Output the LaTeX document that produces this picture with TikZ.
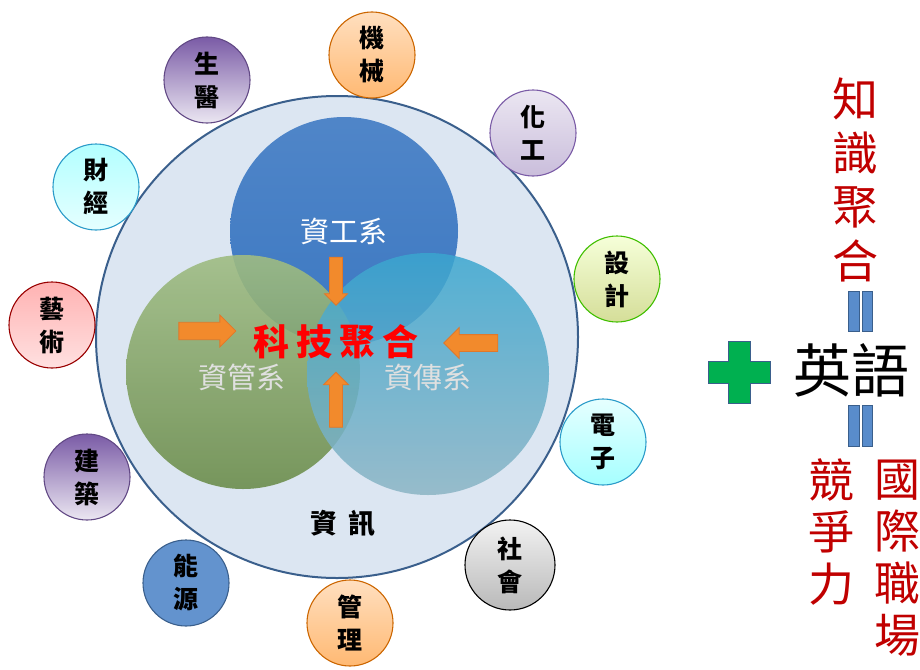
\documentclass[tikz,border=0pt]{standalone}
\usepackage{fontspec}
\setmainfont{Noto Sans CJK TC}
\newfontfamily\cjk{Noto Sans CJK TC}
\usepackage{xcolor}
\usetikzlibrary{positioning, shapes.arrows}

\definecolor{ringfill}{HTML}{DCE6F2}
\definecolor{ringline}{HTML}{3A5F8C}
\definecolor{itblue}{HTML}{3C78C2}
\definecolor{imgreen}{HTML}{7FA65A}
\definecolor{dmblue}{HTML}{3AA6CF}
\definecolor{pushfill}{HTML}{F28A2C}
\definecolor{pushline}{HTML}{E0782A}
\definecolor{darkred}{HTML}{C00000}
\definecolor{plum}{HTML}{7A5BA6}
\definecolor{plusgreen}{HTML}{00B050}

\begin{document}
\begin{tikzpicture}[x=1pt, y=-1pt,
    field/.style={circle, draw, line width=1.1pt, minimum size=86pt, inner sep=0pt, align=center, font=\fontsize{25}{33}\selectfont\bfseries},
    dept/.style={circle, inner sep=0pt, text opacity=1, font=\fontsize{29}{29}\selectfont},
    push/.style={single arrow, draw=pushline, fill=pushfill, inner sep=0pt, line width=0.8pt},
    bar/.style={draw=ringline, fill=itblue!85, line width=0.8pt}]

    \useasboundingbox (0,0) rectangle (920,669);

    % big ring
    \node[circle, draw=ringline, fill=ringfill, line width=2pt, minimum size=482pt, inner sep=0pt] (ring) at (337,337) {};
    \node[font=\fontsize{27}{27}\selectfont\bfseries] (info) at (343,523) {資\hspace{12pt}訊};

    % three departments
    \node[dept, minimum size=228pt, top color=itblue!90!white, bottom color=itblue, text=white] (dept-it) at (344,231) {資工系};
    \node[dept, minimum size=234pt, top color=imgreen!75!white, bottom color=imgreen!85!black, fill opacity=0.9] (dept-im) at (243,372) {};
    \node[dept, minimum size=242pt, top color=dmblue, bottom color=dmblue!55!gray!70!white, fill opacity=0.85] (dept-dm) at (428,374) {};
    \node[dept, text=white!88!black] (label-im) at (242,377) {資管系};
    \node[dept, text=white!88!black] (label-dm) at (428,377) {資傳系};

    % arrows to the centre
    \node[push, minimum height=57pt, minimum width=32pt, single arrow head extend=7pt, inner ysep=8pt] (push-im) at (203,331) {};
    \node[push, minimum height=54pt, minimum width=30pt, single arrow head extend=7pt, inner ysep=8pt, rotate=180] (push-dm) at (475,343) {};
    \node[push, minimum height=48pt, minimum width=23pt, single arrow head extend=5pt, inner ysep=6pt, rotate=-90] (push-it) at (336,278) {};
    \node[push, minimum height=55pt, minimum width=25pt, single arrow head extend=6pt, inner ysep=6pt, rotate=90] (push-up) at (336,403) {};

    \node[text=red, font=\fontsize{36}{36}\selectfont\bfseries] (merge) at (336,342) {科\hspace{7pt}技\hspace{7pt}聚\hspace{7pt}合};

    % fields round the ring
    \node[field, draw=orange!80!black, top color=orange!25, bottom color=orange!55] (mech) at (372,55) {機\\械};
    \node[field, draw=plum, top color=plum!15, bottom color=plum!40] (chem) at (533,133) {化\\工};
    \node[field, draw=green!50!olive, top color=lime!15, bottom color=lime!35!olive!40] (design) at (617,279) {設\\計};
    \node[field, draw=cyan!60!teal, top color=cyan!10, bottom color=cyan!35] (elec) at (603,442) {電\\子};
    \node[field, draw=black, top color=gray!10, bottom color=gray!55, minimum size=90pt] (social) at (510,565) {社\\會};
    \node[field, draw=orange!80!black, top color=orange!25, bottom color=orange!55] (mgmt) at (350,623) {管\\理};
    \node[field, draw=ringline, fill=itblue!80!white] (energy) at (186,583) {能\\源};
    \node[field, draw=plum!80!black, top color=plum, bottom color=plum!15] (arch) at (87,477) {建\\築};
    \node[field, draw=red!60!black, top color=red!30, bottom color=red!12] (art) at (52,325) {藝\\術};
    \node[field, draw=cyan!60!teal, top color=cyan!30, bottom color=cyan!10] (fin) at (96,187) {財\\經};
    \node[field, draw=plum!80!black, top color=plum, bottom color=plum!15] (bio) at (207,80) {生\\醫};

    % right column
    \node[text=darkred, align=center, font=\fontsize{46}{54}\selectfont] (knowledge) at (855,180) {知\\識\\聚\\合};
    \draw[bar] (848,291) rectangle (859,331);
    \draw[bar] (862,291) rectangle (872,331);
    \node[font=\fontsize{58}{58}\selectfont\cjk] (english) at (851,370) {英語};
    \draw[bar] (848,405) rectangle (859,446);
    \draw[bar] (862,405) rectangle (872,446);
    \node[text=darkred, align=center, font=\fontsize{46}{52}\selectfont] (compete) at (831,532) {競\\爭\\力};
    \node[text=darkred, align=center, font=\fontsize{46}{52}\selectfont] (global) at (897,558) {國\\際\\職\\場};

    % plus sign
    \coordinate (plus) at (739,372);
    \draw[fill=plusgreen, draw=ringline, line width=1pt]
        ([shift={(-11,-31)}]plus) -- ([shift={(11,-31)}]plus) -- ([shift={(11,-11)}]plus) -- ([shift={(31,-11)}]plus)
        -- ([shift={(31,11)}]plus) -- ([shift={(11,11)}]plus) -- ([shift={(11,31)}]plus) -- ([shift={(-11,31)}]plus)
        -- ([shift={(-11,11)}]plus) -- ([shift={(-31,11)}]plus) -- ([shift={(-31,-11)}]plus) -- ([shift={(-11,-11)}]plus) -- cycle;
\end{tikzpicture}
\end{document}
